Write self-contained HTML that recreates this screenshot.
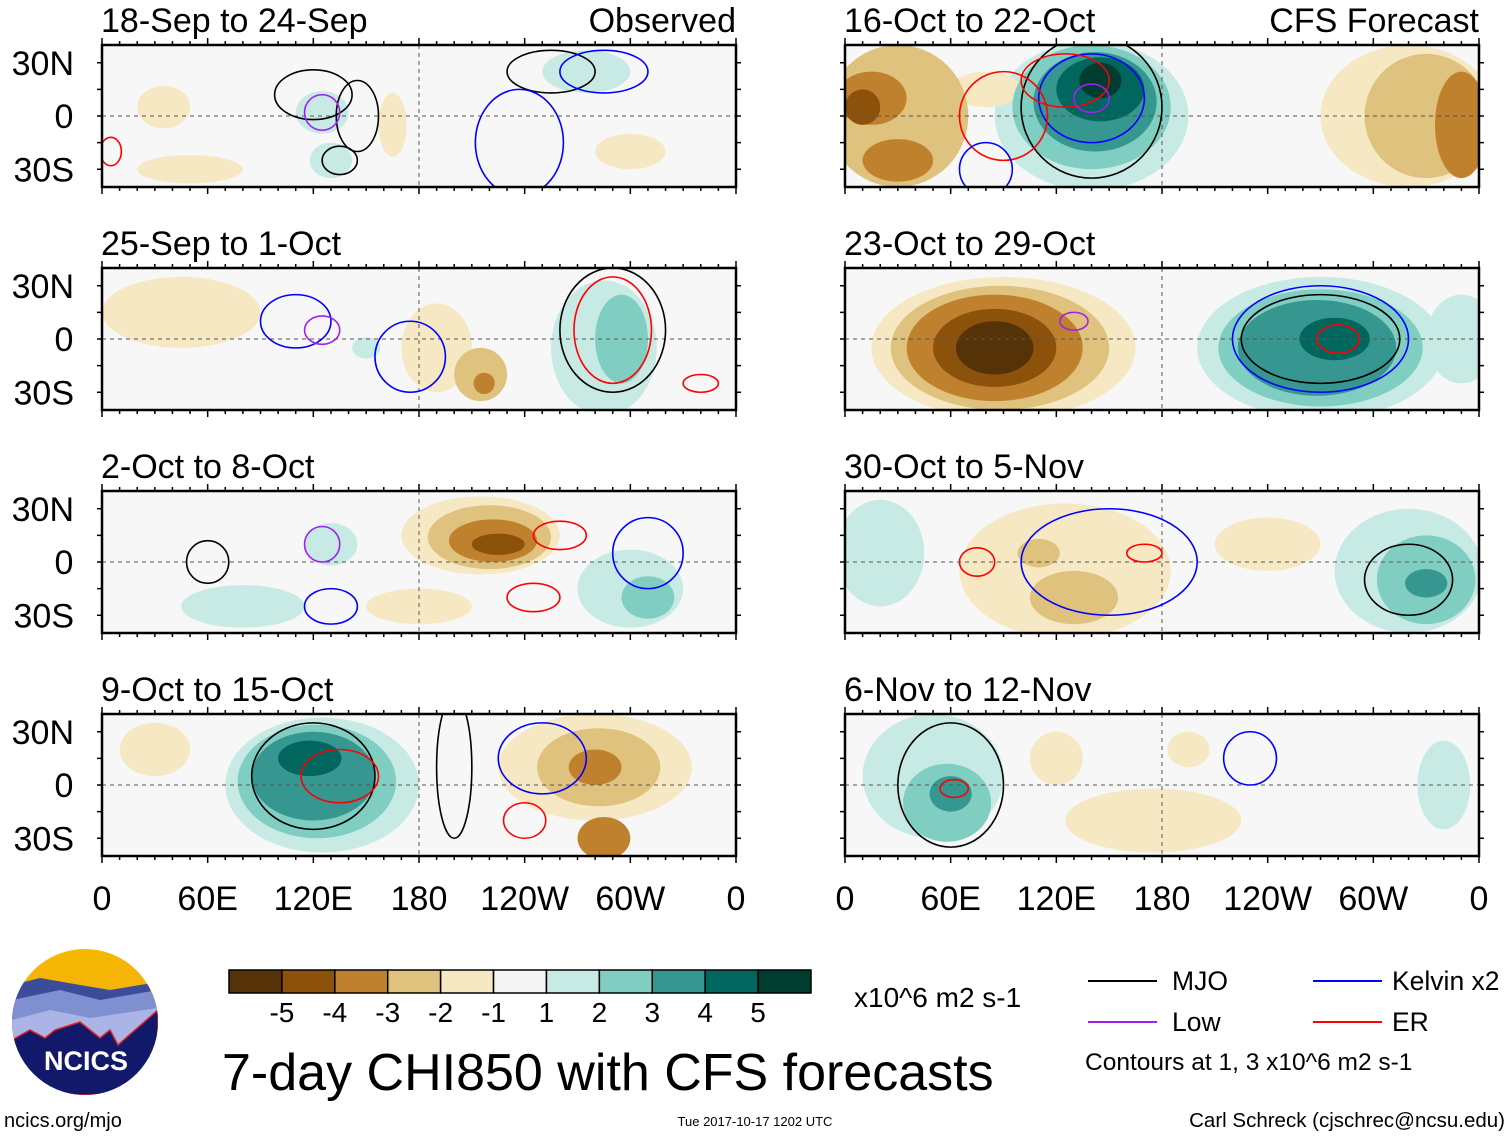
<!DOCTYPE html>
<html><head><meta charset="utf-8">
<style>
html,body{margin:0;padding:0;background:#fff;}
svg text{font-family:"Liberation Sans",sans-serif;}
</style></head>
<body>
<svg id="fig" width="1510" height="1137" viewBox="0 0 1510 1137" xmlns="http://www.w3.org/2000/svg">
<defs>
<linearGradient id="sky" x1="0" y1="0" x2="0" y2="1">
<stop offset="0" stop-color="#f6b800"/><stop offset="1" stop-color="#f5a623"/></linearGradient>
<clipPath id="logoclip"><circle cx="85" cy="1022" r="73"/></clipPath>
</defs>
<g id="panels"></g>
<g id="xaxes"></g>

<!-- logo -->
<g clip-path="url(#logoclip)">
<rect x="12" y="948" width="146" height="147" fill="url(#sky)"/>
<path d="M12,985 L40,978 L80,985 L110,990 L158,982 L158,1095 L12,1095Z" fill="#3b4c9a"/>
<path d="M12,1000 L60,990 L100,1000 L158,990 L158,1095 L12,1095Z" fill="#7f8fcf"/>
<path d="M12,1020 L50,1010 L90,1018 L158,1008 L158,1095 L12,1095Z" fill="#aab4e6"/>
<path d="M12,1040 L30,1030 L45,1038 L55,1030 L80,1022 L100,1038 L110,1030 L118,1045 L135,1030 L158,1010 L158,1095 L12,1095Z" fill="#12196b" stroke="#e02020" stroke-width="1.5"/>
</g>
<text x="86" y="1070" font-size="27" font-weight="bold" fill="#fff" text-anchor="middle">NCICS</text>

<g id="cbar"></g>
<text x="854" y="1007" font-size="28">x10^6 m2 s-1</text>
<text x="222" y="1090" font-size="52">7-day CHI850 with CFS forecasts</text>

<g font-size="26.5">
<line x1="1088" y1="981" x2="1157" y2="981" stroke="#000" stroke-width="2"/><text x="1172" y="990">MJO</text>
<line x1="1313" y1="981" x2="1382" y2="981" stroke="#0000ff" stroke-width="2"/><text x="1392" y="990">Kelvin x2</text>
<line x1="1088" y1="1022" x2="1157" y2="1022" stroke="#a020f0" stroke-width="2"/><text x="1172" y="1031">Low</text>
<line x1="1313" y1="1022" x2="1382" y2="1022" stroke="#ff0000" stroke-width="2"/><text x="1392" y="1031">ER</text>
<text x="1085" y="1070" font-size="24.5">Contours at 1, 3 x10^6 m2 s-1</text>
</g>
<text x="4" y="1127" font-size="20">ncics.org/mjo</text>
<text x="755" y="1126" font-size="13" text-anchor="middle">Tue 2017-10-17 1202 UTC</text>
<text x="1505" y="1127" font-size="20.5" text-anchor="end">Carl Schreck (cjschrec@ncsu.edu)</text>
</svg>
<script>
// ---- data ----
const levels = [-5,-4,-3,-2,-1,0,1,2,3,4,5];
const levelColors = ["#553208","#8c510a","#bf812d","#dfc27d","#f6e8c3","#f5f5f5","#c7eae5","#80cdc1","#35978f","#01665e","#003c30"];
const cbarLabels = ["-5","-4","-3","-2","-1","1","2","3","4","5"];
const lonTicks = [0,60,120,180,240,300,360];
const lonTickLabels = ["0","60E","120E","180","120W","60W","0"];
const latTicks = [30,0,-30];
const latTickLabels = ["30N","0","30S"];
const panelTitles = ["18-Sep to 24-Sep","25-Sep to 1-Oct","2-Oct to 8-Oct","9-Oct to 15-Oct","16-Oct to 22-Oct","23-Oct to 29-Oct","30-Oct to 5-Nov","6-Nov to 12-Nov"];
// anomaly blobs: [lon, lat, lonRadius, latRadius, level]
const blobs0 = [[35,5,15,12,-1],[50,-30,30,8,-1],[165,-5,8,18,-1],[125,2,15,12,1],[275,25,25,12,1],[130,-25,12,10,1],[300,-20,20,10,-1]];
const blobs1 = [[45,15,45,20,-1],[190,-5,20,25,-1],[215,-20,15,15,-2],[217,-25,6,6,-3],[285,-5,30,38,1],[295,0,15,25,2],[150,-5,8,6,1]];
const blobs2 = [[215,15,45,22,-1],[220,14,35,18,-2],[222,12,25,12,-3],[225,10,15,6,-4],[80,-25,35,12,1],[300,-15,30,22,1],[310,-20,15,12,2],[180,-25,30,10,-1],[130,10,15,12,1]];
const blobs3 = [[125,0,55,38,1],[122,2,45,32,2],[120,5,35,25,3],[118,15,18,10,4],[280,10,55,30,-1],[282,10,35,22,-2],[280,10,15,10,-3],[285,-30,15,12,-3],[30,20,20,15,-1]];
const blobs4 = [[30,0,40,40,-2],[15,10,20,15,-3],[30,-25,20,12,-3],[10,5,10,10,-4],[140,0,55,42,1],[140,5,45,35,2],[142,8,35,28,3],[145,15,25,18,4],[145,20,12,10,5],[320,0,50,40,-1],[330,0,35,35,-2],[350,-5,15,30,-3],[80,15,20,10,-1]];
const blobs5 = [[90,-5,75,40,-1],[88,-5,62,35,-2],[85,-5,50,30,-3],[85,-5,35,22,-4],[85,-5,22,15,-5],[270,-5,70,40,1],[270,-5,58,33,2],[268,-5,45,27,3],[278,0,20,12,4],[350,0,20,25,1]];
const blobs6 = [[125,-5,60,38,-1],[130,-20,25,15,-2],[110,5,12,8,-2],[20,5,25,30,1],[320,-5,42,35,1],[330,-10,28,25,2],[330,-12,12,8,3],[240,10,30,15,-1]];
const blobs7 = [[50,5,40,35,1],[58,-10,25,22,2],[60,-5,12,10,3],[120,15,15,15,-1],[175,-20,50,18,-1],[340,0,15,25,1],[195,20,12,10,-1]];
const allBlobs = [blobs0,blobs1,blobs2,blobs3,blobs4,blobs5,blobs6,blobs7];
// contours: [lon, lat, lonRadius, latRadius, colorKey]
const contourColors = {m:"#000000",k:"#0000ff",l:"#a020f0",e:"#ff0000"};
const cont0 = [[120,12,22,14,"m"],[145,0,12,20,"m"],[125,2,10,10,"l"],[255,25,25,12,"m"],[237,-15,25,30,"k"],[285,25,25,12,"k"],[135,-25,10,8,"m"],[5,-20,6,8,"e"]];
const cont1 = [[110,10,20,15,"k"],[125,5,10,8,"l"],[175,-10,20,20,"k"],[290,5,30,35,"m"],[290,5,22,30,"e"],[340,-25,10,5,"e"]];
const cont2 = [[60,0,12,12,"m"],[125,10,10,10,"l"],[260,15,15,8,"e"],[245,-20,15,8,"e"],[310,5,20,20,"k"],[130,-25,15,10,"k"]];
const cont3 = [[120,5,35,30,"m"],[135,5,22,15,"e"],[240,-20,12,10,"e"],[250,15,25,20,"k"],[200,10,10,40,"m"]];
const cont4 = [[140,5,40,40,"m"],[140,10,30,25,"k"],[90,0,25,25,"e"],[125,20,25,15,"e"],[140,10,10,8,"l"],[80,-30,15,15,"k"]];
const cont5 = [[270,0,50,30,"k"],[270,0,45,25,"m"],[280,0,12,8,"e"],[130,10,8,5,"l"]];
const cont6 = [[150,0,50,30,"k"],[170,5,10,5,"e"],[75,0,10,8,"e"],[320,-10,25,20,"m"]];
const cont7 = [[230,15,15,15,"k"],[62,-2,8,5,"e"],[60,0,30,35,"m"]];
const allConts = [cont0,cont1,cont2,cont3,cont4,cont5,cont6,cont7];

// ---- layout ----
const NS="http://www.w3.org/2000/svg";
const panelX=[102,845], panelW=634;
const panelY=[45,268,491,714], panelH=142;
function mk(tag,attrs,parent){const e=document.createElementNS(NS,tag);for(const k in attrs)e.setAttribute(k,attrs[k]);parent.appendChild(e);return e;}
const root=document.getElementById('panels');
const colorFor=v=>levelColors[levels.indexOf(v)];
for(let p=0;p<8;p++){
  const col=p<4?0:1,row=p%4;
  const x0=panelX[col],y0=panelY[row];
  const xs=lon=>x0+lon/360*panelW;
  const ys=lat=>y0+panelH/2-lat/80*panelH;
  const g=mk('g',{},root);
  
  
  const cp=mk('clipPath',{id:'cp'+p},g);
  mk('rect',{x:x0,y:y0,width:panelW,height:panelH},cp);
  mk('rect',{x:x0,y:y0,width:panelW,height:panelH,fill:"#f7f7f7"},g);
  const inner=mk('g',{'clip-path':'url(#cp'+p+')'},g);
  const bl=allBlobs[p].slice().sort((a,b)=>Math.abs(a[4])-Math.abs(b[4]));
  bl.forEach(b=>{
    const e=mk('ellipse',{cx:xs(b[0]),cy:ys(b[1]),rx:b[2]/360*panelW,ry:b[3]/80*panelH,fill:colorFor(b[4])},inner);
    
    
  });
  mk('line',{x1:x0,y1:ys(0),x2:x0+panelW,y2:ys(0),stroke:"#555","stroke-dasharray":"4,4","stroke-width":1},inner);
  mk('line',{x1:xs(180),y1:y0,x2:xs(180),y2:y0+panelH,stroke:"#555","stroke-dasharray":"4,4","stroke-width":1},inner);
  allConts[p].forEach(c=>{
    const e=mk('ellipse',{cx:xs(c[0]),cy:ys(c[1]),rx:c[2]/360*panelW,ry:c[3]/80*panelH,fill:"none",stroke:contourColors[c[4]],"stroke-width":1.6},inner);
    
    
  });
  mk('rect',{x:x0,y:y0,width:panelW,height:panelH,fill:"none",stroke:"#000","stroke-width":2.5},g);
  for(let lon=0;lon<=360;lon+=10){
    const L=lon%60===0?7:4;
    mk('line',{x1:xs(lon),y1:y0,x2:xs(lon),y2:y0-L,stroke:"#000","stroke-width":1.5},g);
    mk('line',{x1:xs(lon),y1:y0+panelH,x2:xs(lon),y2:y0+panelH+L,stroke:"#000","stroke-width":1.5},g);
  }
  for(let lat=-30;lat<=30;lat+=15){
    mk('line',{x1:x0,y1:ys(lat),x2:x0-5,y2:ys(lat),stroke:"#000","stroke-width":1.5},g);
    mk('line',{x1:x0+panelW,y1:ys(lat),x2:x0+panelW+5,y2:ys(lat),stroke:"#000","stroke-width":1.5},g);
  }
  const t=mk('text',{x:x0-1,y:y0-13,'font-size':34},g);t.textContent=panelTitles[p];
  
  if(row===0){
    const s=mk('text',{x:x0+panelW,y:y0-13,'font-size':34,'text-anchor':'end'},g);
    s.textContent=col===0?"Observed":"CFS Forecast";
    
  }
  if(col===0){
    latTicks.forEach((lat,i)=>{
      const l=mk('text',{x:74,y:ys(lat)+12,'font-size':34,'text-anchor':lat===0?'middle':'end'},g);
      if(lat===0)l.setAttribute('x',64);
      l.textContent=latTickLabels[i];
      
    });
  }
}
const xa=document.getElementById('xaxes');
[0,1].forEach(col=>{
  lonTicks.forEach((lon,i)=>{
    const t=mk('text',{x:panelX[col]+lon/360*panelW,y:910,'font-size':34,'text-anchor':'middle'},xa);
    t.textContent=lonTickLabels[i];
    
  });
});
const cb=document.getElementById('cbar');
const cbX=229,cbW=582,cbY=970,cbH=23,bw=cbW/levelColors.length;
levelColors.forEach((c,i)=>{
  const r=mk('rect',{x:cbX+i*bw,y:cbY,width:bw,height:cbH,fill:c,stroke:"#000","stroke-width":1.5},cb);
  
});
cbarLabels.forEach((l,i)=>{
  const t=mk('text',{x:cbX+(i+1)*bw,y:1022,'font-size':28,'text-anchor':'middle'},cb);
  t.textContent=l;
  
});
</script>
</body></html>
